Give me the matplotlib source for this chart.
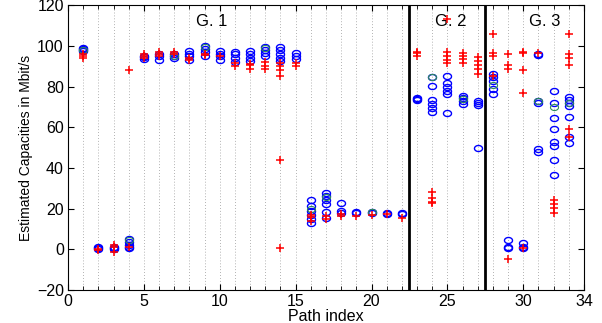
import numpy as np
import matplotlib
matplotlib.use('Agg')
import matplotlib.pyplot as plt
from matplotlib.path import Path

plt.rcParams['font.family'] = ['Liberation Sans', 'DejaVu Sans']

# estimates per path index (1..33), one list per path
blue_vals = [
    [98, 98.5, 97.5, 99], [0.5, 1, 0], [0.5, 1, 0], [1, 0.5, 2, 5, 3.5],
    [93.5, 94.5, 95], [93, 95, 96], [94, 95, 96], [93, 95, 96, 97.5],
    [95, 97, 98.5, 100], [93, 95, 96, 97.5], [92, 94, 96, 97], [92.5, 94, 96, 97.5],
    [95, 96.5, 98, 99.5], [92.5, 94, 96, 98, 99.5], [93.5, 95, 96.5],
    [13, 15, 17, 19, 21, 24], [15.5, 18.5, 22, 24, 26, 27.5], [18, 19, 22.5],
    [18, 18.5], [18, 18.5], [17.5, 18], [17.5, 18],
    [73.5, 74, 74.5], [85, 80.5, 73.5, 71.5, 69.5, 67.5], [85.5, 82, 80, 78, 76.5, 67],
    [71.5, 73, 74.5, 75.5], [71, 72, 73, 50],
    [76.5, 79, 83, 85, 86.5], [4.5, 1, 0.5], [3, 1, 0.5], [95.5, 96, 73, 72, 49.5, 48],
    [78, 72, 64.5, 59, 53, 51, 44, 36.5], [75, 73.5, 72, 70.5, 65, 55, 52.5],
]
green_paths = [1, 4, 7, 9, 13, 16, 17, 20, 24, 26, 28, 31, 32, 33]
green_vals = [98, 4.5, 95, 99.5, 99, 20, 25.5, 18.5, 85, 74, 81, 73, 70, 72]
red_vals = [
    [95, 94, 96], [0, -0.5], [-1.5, 1, 2], [88, 1],
    [95, 96, 94], [97, 96, 95], [97, 96], [93, 94],
    [95.5, 96], [95], [90, 91.5], [88.5, 90.5, 91],
    [88.5, 90, 92], [85.5, 88, 90, 91.5, 44, 0.5], [90, 91.5],
    [14, 16, 17], [16.5, 15], [16.5, 17.5], [16.5], [17], [17.5], [15.5],
    [95, 96.5, 97], [28, 25, 23, 22.5], [113.5, 91.5, 93, 95, 97],
    [91.5, 93.5, 95, 96.5], [86.5, 88.5, 90.5, 92.5, 94.5],
    [106, 96.5, 95, 85.5], [96, 90.5, 88.5, -5], [97, 96.5, 88, 77, 0.5], [96.5],
    [24, 22, 20.5, 18], [106, 96, 94, 90.5, 59, 55],
]
group_bounds = [22.5, 27.5]
group_labels = ['G. 1', 'G. 2', 'G. 3']
group_label_x = [9.5, 25.2, 31.4]


def flatten(vals):
    xs, ys = [], []
    for i, v in enumerate(vals):
        xs += [i + 1] * len(v)
        ys += v
    return xs, ys


# squashed circle, like the stretched matlab export
t = np.linspace(0, 2 * np.pi, 40)
ellipse = Path(np.column_stack([np.cos(t), 0.75 * np.sin(t)]))

fig = plt.figure(figsize=(6.02, 3.23), dpi=100)
ax = fig.add_axes([0.113, 0.103, 0.857, 0.88])

for x in range(1, 34):
    ax.axvline(x, color='#999999', linestyle=(0, (1, 2.5)), linewidth=0.6, zorder=0)

bx, by = flatten(blue_vals)
ax.plot(bx, by, linestyle='none', marker=ellipse, markersize=5.8, markerfacecolor='none',
        markeredgecolor='#0000ff', markeredgewidth=1.0, zorder=2)
ax.plot(green_paths, green_vals, linestyle='none', marker=ellipse, markersize=5.8,
        markerfacecolor='none', markeredgecolor='#2e8b57', markeredgewidth=0.8, zorder=3)
rx, ry = flatten(red_vals)
ax.plot(rx, ry, linestyle='none', marker='+', markersize=5.5, color='#ff0000',
        markeredgewidth=1.1, zorder=4)

for b in group_bounds:
    ax.axvline(b, color='black', linewidth=2, zorder=5)
for lx, lab in zip(group_label_x, group_labels):
    ax.text(lx, 112, lab, ha='center', va='center', fontsize=12)

ax.set_xlim(0, 34)
ax.set_ylim(-20, 120)
ax.set_xticks([0, 5, 10, 15, 20, 25, 30, 34])
ax.set_xticks(range(0, 35), minor=True)
ax.set_yticks(range(-20, 121, 20))
ax.tick_params(which='both', direction='in', top=True, right=True, labelsize=11.5)
ax.tick_params(which='major', length=4, pad=3)
ax.tick_params(which='minor', length=3)
ax.set_xlabel('Path index', fontsize=11.5, labelpad=0)
ax.set_ylabel('Estimated Capacities in Mbit/s', fontsize=10, labelpad=3)

fig.savefig('out.png', dpi=100)
